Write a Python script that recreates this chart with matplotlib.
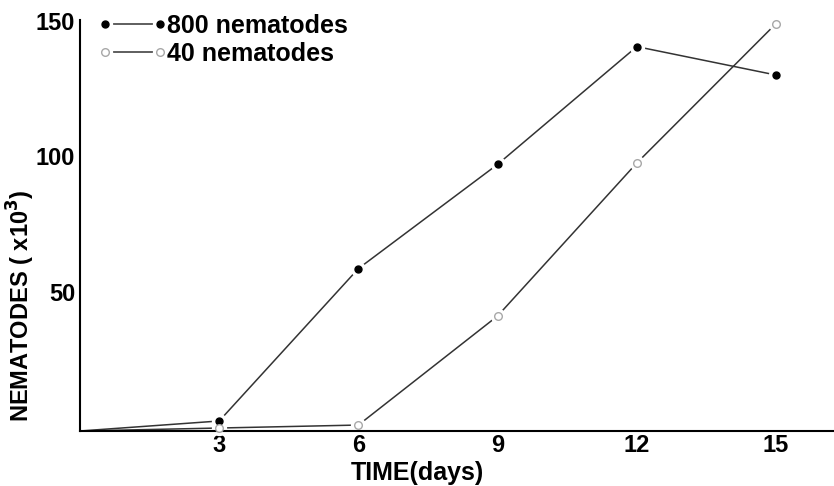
import matplotlib
matplotlib.use('Agg')
import matplotlib.pyplot as plt
import matplotlib.transforms as mtransforms

# values (x10^3 nematodes)
days = [0, 3, 6, 9, 12, 15]
n800 = [0, 3.7, 60, 98.5, 142, 131.5]
n40 = [0, 1.1, 2.2, 42.5, 99, 150.5]

xticks = [3, 6, 9, 12, 15]
yticks = [50, 100, 150]
labels = ['800 nematodes', '40 nematodes']

sans = ['Liberation Sans', 'DejaVu Sans']
narrow = ['Liberation Sans Narrow', 'DejaVu Sans Condensed', 'Liberation Sans']

fig = plt.figure(figsize=(8.34, 4.86), dpi=100)
ax = fig.add_axes([80 / 834, 55 / 486, 754 / 834, 411 / 486])
ax.set_xlim(0, 754 / 46.4)
ax.set_ylim(0, 411 / 2.707)

line_col = '#333333'

# 800 nematodes: filled dots, line broken around each dot
l1, = ax.plot(days, n800, color=line_col, lw=1.1, zorder=2)
h1, = ax.plot(days[1:], n800[1:], ls='none', marker='o', ms=10,
              mfc='white', mec='white', zorder=3, clip_on=False)
m1, = ax.plot(days[1:], n800[1:], ls='none', marker='o', ms=5,
              mfc='black', mec='black', zorder=4, clip_on=False)

# 40 nematodes: open grey circles
l2, = ax.plot(days, n40, color=line_col, lw=1.1, zorder=2)
h2, = ax.plot(days[1:], n40[1:], ls='none', marker='o', ms=10,
              mfc='white', mec='white', zorder=3, clip_on=False)
m2, = ax.plot(days[1:], n40[1:], ls='none', marker='o', ms=5.5,
              mfc='white', mec='#a8a8a8', mew=1, zorder=4, clip_on=False)

for s in ['top', 'right']:
    ax.spines[s].set_visible(False)
for s in ['left', 'bottom']:
    ax.spines[s].set_linewidth(1.5)
    ax.spines[s].set_zorder(3.5)

ax.set_xticks(xticks)
ax.set_yticks(yticks)
ax.tick_params(length=0)
ax.tick_params(axis='x', pad=2)
ax.tick_params(axis='y', pad=3.5)
for t in ax.get_xticklabels():
    t.set_fontfamily(narrow)
    t.set_fontweight('bold')
    t.set_fontsize(17)
shift = mtransforms.ScaledTranslation(0, 4 / 100, fig.dpi_scale_trans)
for t in ax.get_yticklabels():
    t.set_fontfamily(sans)
    t.set_fontweight('bold')
    t.set_fontsize(17)
    t.set_transform(t.get_transform() + shift)

ax.set_xlabel('TIME(days)', fontfamily=narrow, fontweight='bold', fontsize=18)
ax.xaxis.set_label_coords(0.447, -0.072)
ax.set_ylabel(r'NEMATODES ( x10$^{\mathbf{3}}$)', fontfamily=sans,
              fontweight='bold', fontsize=17)
ax.yaxis.set_label_coords(-0.057, 0.304)

leg = ax.legend([(l1, h1, m1), (l2, h2, m2)], labels,
                loc='upper left', bbox_to_anchor=(97 / 834, 1 - 14 / 486),
                bbox_transform=fig.transFigure, frameon=False, numpoints=2,
                handlelength=2.8, handletextpad=0.0, labelspacing=0.15,
                borderpad=0, borderaxespad=0,
                prop={'family': sans, 'weight': 'bold', 'size': 18})

fig.savefig('out.png', dpi=100)
